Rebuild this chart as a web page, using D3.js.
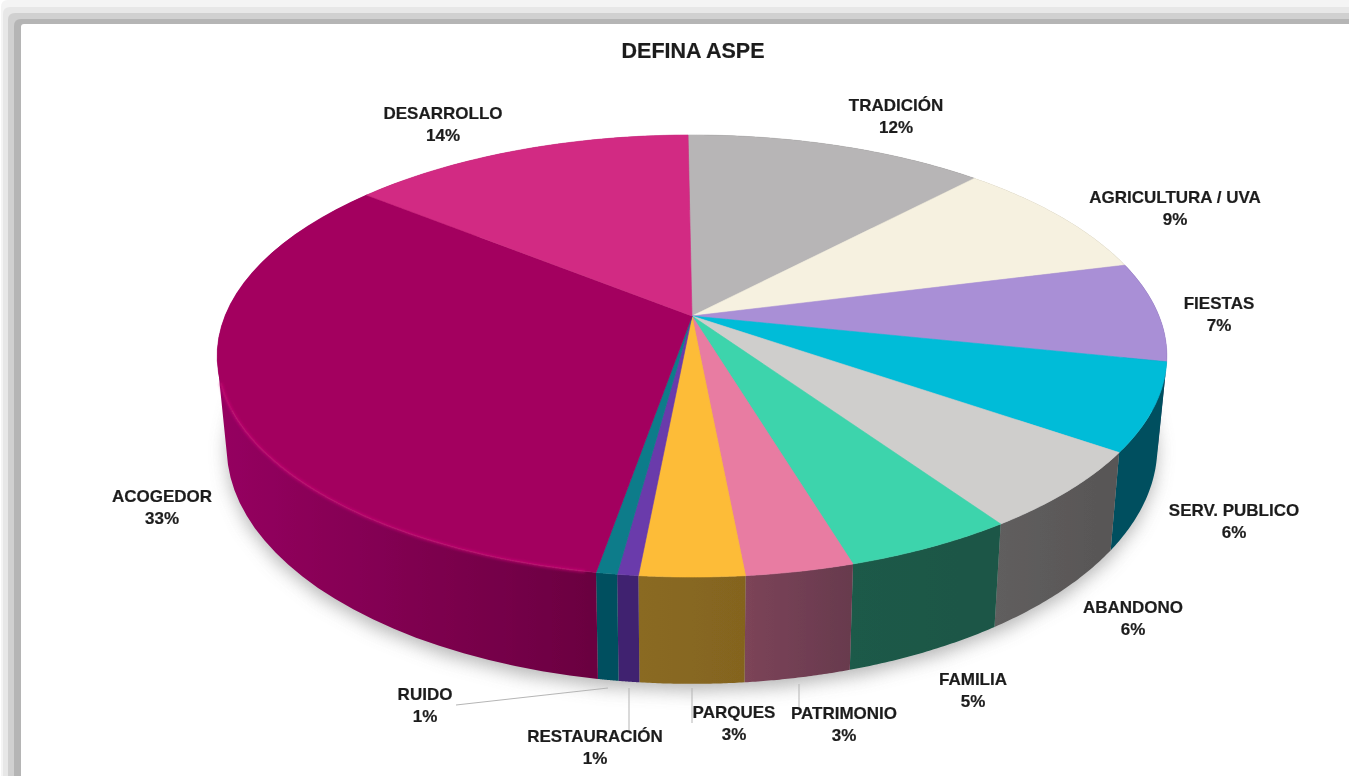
<!DOCTYPE html>
<html>
<head>
<meta charset="utf-8">
<title>DEFINA ASPE</title>
<script src="https://cdn.jsdelivr.net/npm/d3@7"></script>
<style>
  html, body { margin: 0; padding: 0; background: #fff; overflow: hidden; }
  text { font-family: "Liberation Sans", Arial, sans-serif; font-weight: bold; fill: #1d1d1d; stroke: #1d1d1d; stroke-width: 0.2px; }
</style>
</head>
<body>
<div id="chart"></div>
<script>
// data, clockwise from just left of 12 o'clock
var categories = ["TRADICIÓN", "AGRICULTURA / UVA", "FIESTAS", "SERV. PUBLICO", "ABANDONO", "FAMILIA",
                  "PATRIMONIO", "PARQUES", "RESTAURACIÓN", "RUIDO", "ACOGEDOR", "DESARROLLO"];
var shares = [12.16, 9, 7.3, 6.4, 5.8, 4.9, 3.1, 3, 0.6, 0.6, 33.15, 13.99];

// colours
var topColors = ["#b7b5b6", "#f6f1e0", "#a98fd6", "#00bcd8", "#cfcecc", "#3ed4ac",
                 "#e87ba2", "#fdbc37", "#6a3aab", "#0c7c8a", "#a3005f", "#d22b83"];
var wallLeft = ["#5c5a5b", "#7b7870", "#4a3a70", "#004f5e", "#605e5e", "#1a5a48",
                "#7c4458", "#8a6a22", "#3f2270", "#004f5e", "#94065f", "#8a1a55"];
var wallRight = ["#5c5a5b", "#7b7870", "#4a3a70", "#004f5e", "#585656", "#1a5646",
                 "#683a4e", "#84641f", "#3f2270", "#004f5e", "#6a0040", "#8a1a55"];

// label centres and leader lines, page coordinates
var labelPos = {
  "DESARROLLO": [443, 113], "TRADICIÓN": [896, 105], "AGRICULTURA / UVA": [1175, 197],
  "FIESTAS": [1219, 303], "SERV. PUBLICO": [1234, 510], "ABANDONO": [1133, 607],
  "FAMILIA": [973, 679], "PATRIMONIO": [844, 713], "PARQUES": [734, 712],
  "RESTAURACIÓN": [595, 736], "RUIDO": [425, 694], "ACOGEDOR": [162, 496]
};
var leaders = [
  [[456, 705], [608, 688]],
  [[629, 688], [629, 730]],
  [[692, 688], [692, 723]],
  [[799, 684], [799, 708]]
];

// frame bands on the top and left edge of the picture
var frameBands = [
  {x: 1, y: 0, color: "#f4f4f4"},
  {x: 3, y: 7, color: "#e7e7e7"},
  {x: 8, y: 13, color: "#d0d0d0"},
  {x: 14, y: 19, color: "#b5b5b5"}
];

var width = 1349, height = 776;

var svg = d3.select("#chart").append("svg")
    .attr("width", width)
    .attr("height", height)
    .style("display", "block");

var defs = svg.append("defs");
defs.append("filter").attr("id", "soft").attr("x", "-5%").attr("y", "-5%").attr("width", "110%").attr("height", "110%")
  .append("feGaussianBlur").attr("stdDeviation", 0.7);
defs.append("filter").attr("id", "softer").attr("x", "-20%").attr("y", "-20%").attr("width", "140%").attr("height", "140%")
  .append("feGaussianBlur").attr("stdDeviation", 9);
defs.append("filter").attr("id", "rim").attr("x", "-5%").attr("y", "-5%").attr("width", "110%").attr("height", "110%")
  .append("feGaussianBlur").attr("stdDeviation", 1.4);
defs.append("filter").attr("id", "inkblur")
  .append("feGaussianBlur").attr("stdDeviation", 0.35);

// frame
svg.selectAll(".band").data(frameBands).enter().append("path")
    .attr("class", "band")
    .attr("fill", function(d) { return d.color; })
    .attr("d", function(d) { return "M" + d.x + "," + height + "V" + (d.y + 7) + "Q" + d.x + "," + d.y + " " + (d.x + 7) + "," + d.y + "H" + width + "V" + height + "Z"; });
svg.append("path")
    .attr("fill", "#fff")
    .attr("d", "M21," + height + "V27Q21,24 24,24H" + width + "V" + height + "Z");

// the disc is drawn through a perspective projection, so the hub is not the middle of the ellipse
var hub = [692, 316];
var persp = -0.181, scaleY = 213.8, scaleX = 467;
var base = {y: 404, sx: 0.98, sy: 1.072};

function projectTop(angle) {
  var x = Math.sin(angle), y = -Math.cos(angle), w = 1 + persp * y;
  return [hub[0] + scaleX * x / w, hub[1] + scaleY * y / w];
}
function projectBase(angle) {
  var p = projectTop(angle);
  return [hub[0] + base.sx * (p[0] - hub[0]), base.y + base.sy * (p[1] - hub[1])];
}
function arcPoints(a0, a1, fn) {
  return d3.range(0, 41).map(function(i) { return fn(a0 + (a1 - a0) * i / 40); });
}

var pie = d3.pie().sort(null).value(function(d) { return d; })
    .startAngle(-0.01).endAngle(2 * Math.PI - 0.01);
var slices = pie(shares);
var line = d3.line();
var color = d3.scaleOrdinal().domain(categories).range(topColors);

// soft shadow under the disc
svg.append("path")
    .attr("d", line(arcPoints(0, 2 * Math.PI, projectBase)) + "Z")
    .attr("transform", "translate(0,7)")
    .attr("fill", "#a8a8a8")
    .attr("opacity", 0.85)
    .attr("filter", "url(#softer)");

var pieG = svg.append("g").attr("filter", "url(#soft)");

// side walls, quads in one path so the straight silhouette at the far left and right gets filled
// quads all wound the same way, otherwise they cancel where the two rims cross
slices.forEach(function(d, i) {
  var rimB = arcPoints(d.startAngle, d.endAngle, projectBase);
  var rimT = arcPoints(d.startAngle, d.endAngle, projectTop);
  var grad = defs.append("linearGradient")
      .attr("id", "wall" + i)
      .attr("gradientUnits", "userSpaceOnUse")
      .attr("x1", d3.min(rimB, function(p) { return p[0]; })).attr("y1", 0)
      .attr("x2", d3.max(rimB, function(p) { return p[0]; })).attr("y2", 0);
  grad.append("stop").attr("offset", "0%").attr("stop-color", wallLeft[i]);
  grad.append("stop").attr("offset", "100%").attr("stop-color", wallRight[i]);
  var quads = d3.range(0, 40).map(function(k) {
    var quad = [rimT[k], rimT[k + 1], rimB[k + 1], rimB[k]];
    if (d3.polygonArea(quad) < 0) quad.reverse();
    return line(quad) + "Z";
  });
  pieG.append("path")
      .attr("d", quads.join(""))
      .attr("fill", "url(#wall" + i + ")")
      .attr("stroke", "none");
});

// top of the disc
pieG.selectAll(".slice").data(slices).enter().append("path")
    .attr("class", "slice")
    .attr("fill", function(d) { return color(categories[d.index]); })
    .attr("stroke", function(d) { return color(categories[d.index]); })
    .attr("stroke-width", 0.6)
    .attr("d", function(d) {
      return line([hub].concat(arcPoints(d.startAngle, d.endAngle, projectTop))) + "Z";
    });

// bright bevel along the front of the biggest slice
var big = slices[categories.indexOf("ACOGEDOR")];
svg.append("path")
    .attr("d", line(arcPoints(big.startAngle + 0.02, big.startAngle + 1.1, projectTop)))
    .attr("fill", "none")
    .attr("stroke", "#d0107a")
    .attr("stroke-width", 1.8)
    .attr("filter", "url(#rim)");

// leader lines
svg.selectAll(".leader").data(leaders).enter().append("path")
    .attr("class", "leader")
    .attr("d", line)
    .attr("fill", "none")
    .attr("stroke", "#b5b5b5")
    .attr("stroke-width", 1);

// title and labels
var ink = svg.append("g").attr("filter", "url(#inkblur)");
ink.append("text")
    .attr("x", 693)
    .attr("y", 58)
    .attr("text-anchor", "middle")
    .style("font-size", "21.5px")
    .text("DEFINA ASPE");

var labels = ink.selectAll(".label").data(slices).enter().append("text")
    .attr("class", "label")
    .attr("text-anchor", "middle")
    .style("font-size", "17px");
labels.append("tspan")
    .attr("x", function(d) { return labelPos[categories[d.index]][0]; })
    .attr("y", function(d) { return labelPos[categories[d.index]][1] + 6; })
    .text(function(d) { return categories[d.index]; });
labels.append("tspan")
    .attr("x", function(d) { return labelPos[categories[d.index]][0]; })
    .attr("y", function(d) { return labelPos[categories[d.index]][1] + 28; })
    .text(function(d) { return Math.round(d.value) + "%"; });
</script>
</body>
</html>
